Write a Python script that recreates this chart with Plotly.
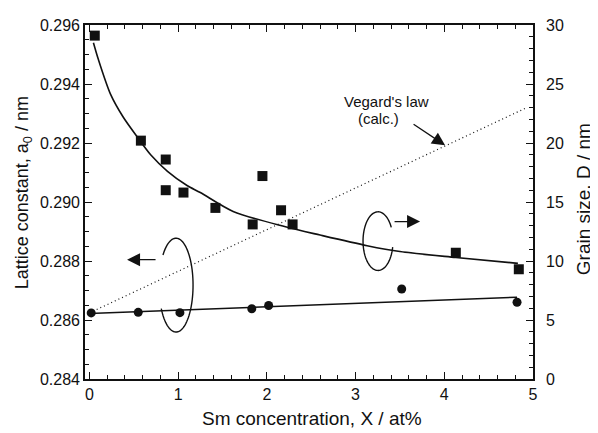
import numpy as np
import plotly.graph_objects as go

# ---- data ----
# lattice constant (left axis, circles)
x_lat = [0.02, 0.55, 1.02, 1.83, 2.02, 3.52, 4.82]
a_lat = [0.28624, 0.28626, 0.28625, 0.28638, 0.28649, 0.28705, 0.28660]
# linear fit through lattice data
x_lat_fit = [0.0, 4.82]
a_lat_fit = [0.28622, 0.28677]
# Vegard's law (calc.)
x_veg = [0.0, 4.93]
a_veg = [0.28624, 0.29320]
# grain size (right axis, squares)
x_gs = [0.06, 0.58, 0.86, 0.86, 1.06, 1.42, 1.84, 1.95, 2.16, 2.29, 4.13, 4.84]
d_gs = [29.1, 20.2, 18.6, 16.0, 15.8, 14.5, 13.1, 17.2, 14.3, 13.1, 10.7, 9.3]
# fitted grain size curve
x_gs_fit = [0.045, 0.1, 0.24, 0.38, 0.54, 0.69, 0.88, 1.1, 1.25, 1.62, 2.21, 2.6, 3.13, 3.5, 4.13, 4.83]
d_gs_fit = [28.5, 27.1, 24.1, 22.2, 20.5, 19.0, 17.6, 16.4, 15.8, 14.2, 12.9, 12.2, 11.3, 10.8, 10.3, 9.8]

FONT = "Liberation Sans, Arial, Helvetica, sans-serif"
BLACK = "#111111"

fig = go.Figure()
fig.add_trace(go.Scatter(x=x_veg, y=a_veg, mode="lines",
                         line=dict(color=BLACK, width=1.2, dash="1px,3px"), yaxis="y"))
fig.add_trace(go.Scatter(x=x_lat_fit, y=a_lat_fit, mode="lines",
                         line=dict(color=BLACK, width=1.5), yaxis="y"))
fig.add_trace(go.Scatter(x=x_lat, y=a_lat, mode="markers",
                         marker=dict(symbol="circle", size=9, color=BLACK), yaxis="y"))
fig.add_trace(go.Scatter(x=x_gs_fit, y=d_gs_fit, mode="lines",
                         line=dict(color=BLACK, width=1.6, shape="spline", smoothing=0.8), yaxis="y2"))
fig.add_trace(go.Scatter(x=x_gs, y=d_gs, mode="markers",
                         marker=dict(symbol="square", size=10, color=BLACK), yaxis="y2"))

# ---- decorative ellipse arcs (indicating which axis) ----
def arc_path(cx, cy, rx, ry, t0, t1, n=80):
    t = np.radians(np.linspace(t0, t1, n))
    xs = cx + rx * np.cos(t)
    ys = cy - ry * np.sin(t)
    return "M " + " L ".join(f"{x:.5f},{y:.7f}" for x, y in zip(xs, ys))

fig.add_shape(type="path", xref="x", yref="y",
              path=arc_path(0.976, 0.287182, 0.192, 0.001591, -140, 150),
              line=dict(color=BLACK, width=1.4))
fig.add_shape(type="path", xref="x", yref="y",
              path=arc_path(3.253, 0.288674, 0.169, 0.000994, 12, 332),
              line=dict(color=BLACK, width=1.4))

arrow = dict(showarrow=True, arrowhead=2, arrowsize=2.0, arrowwidth=1.3, arrowcolor=BLACK,
             xref="x", yref="y", text="")
annos = [
    dict(x=0.424, y=0.288044, ax=30, ay=0, **arrow),
    dict(x=3.727, y=0.289337, ax=-27, ay=0, **arrow),
    dict(x=4.009, y=0.291923, ax=-33, ay=-22, **arrow),
    dict(x=3.343, y=0.293414, xref="x", yref="y", text="Vegard's law", showarrow=False,
         xanchor="center", yanchor="middle", font=dict(family=FONT, size=15, color=BLACK)),
    dict(x=3.253, y=0.292818, xref="x", yref="y", text="(calc.)", showarrow=False,
         xanchor="center", yanchor="middle", font=dict(family=FONT, size=15, color=BLACK)),
    # axis titles
    dict(x=-0.1384, y=0.5276, xref="paper", yref="paper", textangle=-90,
         xanchor="center", yanchor="middle",
         text="Lattice constant, a<sub>0</sub> / nm", showarrow=False,
         font=dict(family=FONT, size=18, color=BLACK)),
    dict(x=1.1116, y=0.508, xref="paper", yref="paper", textangle=-90,
         xanchor="center", yanchor="middle",
         text="Grain size, D / nm", showarrow=False,
         font=dict(family=FONT, size=19, color=BLACK)),
    dict(x=0.5067, y=-0.1105, xref="paper", yref="paper",
         xanchor="center", yanchor="middle",
         text="Sm concentration, X / at%", showarrow=False,
         font=dict(family=FONT, size=19, color=BLACK)),
]

tickfont = dict(family=FONT, size=16, color=BLACK)
fig.update_layout(
    width=598, height=433,
    # page body has an 8px default margin; plot area lands at 85..533 x 17..379
    margin=dict(l=77, r=73, t=9, b=62),
    paper_bgcolor="white", plot_bgcolor="white",
    showlegend=False,
    annotations=annos,
    xaxis=dict(range=[-0.05, 5.0], dtick=1, tick0=0, ticks="inside", ticklen=7, tickwidth=1.3,
               showline=True, linecolor=BLACK, linewidth=1.6, mirror="ticks",
               showgrid=False, zeroline=False, tickfont=tickfont, tickcolor=BLACK,
               minor=dict(dtick=0.2, tick0=0, ticks="inside", ticklen=4, tickwidth=1.1, tickcolor=BLACK)),
    yaxis=dict(range=[0.284, 0.296], dtick=0.002, tick0=0.284, tickformat=".3f",
               ticks="inside", ticklen=7, tickwidth=1.3, tickcolor=BLACK,
               showline=True, linecolor=BLACK, linewidth=1.6,
               showgrid=False, zeroline=False, tickfont=tickfont,
               minor=dict(dtick=0.0005, ticks="inside", ticklen=4, tickwidth=1.1, tickcolor=BLACK)),
    yaxis2=dict(range=[0, 30], dtick=5, tick0=0, overlaying="y", side="right",
                ticks="inside", ticklen=7, tickwidth=1.3, tickcolor=BLACK,
                showline=True, linecolor=BLACK, linewidth=1.6,
                showgrid=False, zeroline=False, tickfont=tickfont, ticklabelstandoff=8,
                minor=dict(dtick=1, ticks="inside", ticklen=4, tickwidth=1.1, tickcolor=BLACK)),
)

fig.write_html("out.html")
